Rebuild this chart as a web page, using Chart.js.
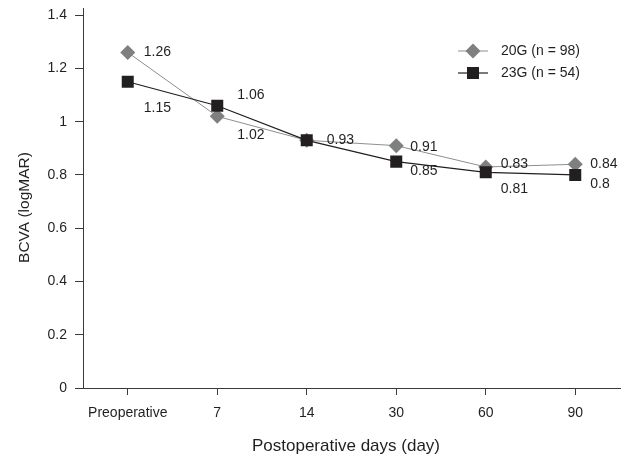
<!DOCTYPE html>
<html>
<head>
<meta charset="utf-8">
<script src="https://cdn.jsdelivr.net/npm/chart.js@4/dist/chart.umd.min.js"></script>
<style>
html,body{margin:0;padding:0;background:#fff;}
#c{display:block;}
</style>
</head>
<body>
<canvas id="c" width="631" height="458"></canvas>
<script>
// ---- data ----
const categories = ['Preoperative', '7', '14', '30', '60', '90'];
const series20G = [1.26, 1.02, 0.93, 0.91, 0.83, 0.84];
const series23G = [1.15, 1.06, 0.93, 0.85, 0.81, 0.8];
const label20G = '20G (n = 98)';
const label23G = '23G (n = 54)';
const yTicks = [0, 0.2, 0.4, 0.6, 0.8, 1, 1.2, 1.4];
const xTitle = 'Postoperative days (day)';
const yTitle = 'BCVA (logMAR)';

const TEXT = '#231f20';
const AXIS = '#3a3a3a';
const FONT = '"Liberation Sans", Arial, Helvetica, sans-serif';

// value label placement (offsets from point, px); null = no label
const labelOffsets = [
  [[16,0],[20,19],[20,0],[14,1],[15,-3],[15,0]],
  [[16,26],[20,-11],null,[14,10],[15,17],[15,9]]
];

const valueLabels = {
  id: 'valueLabels',
  afterDatasetsDraw(chart) {
    const ctx = chart.ctx;
    ctx.save();
    ctx.font = '14px ' + FONT;
    ctx.fillStyle = TEXT;
    ctx.textAlign = 'left';
    ctx.textBaseline = 'middle';
    chart.data.datasets.forEach((ds, di) => {
      const meta = chart.getDatasetMeta(di);
      const offs = labelOffsets[ds.labelSet];
      meta.data.forEach((pt, i) => {
        const o = offs[i];
        if (!o) return;
        ctx.fillText(String(ds.data[i]), pt.x + o[0], pt.y + o[1]);
      });
    });
    ctx.restore();
  }
};

const customLegend = {
  id: 'customLegend',
  afterDraw(chart) {
    const ctx = chart.ctx;
    const rows = [chart.data.datasets[1], chart.data.datasets[0]];
    ctx.save();
    rows.forEach((ds, r) => {
      const y = 51 + r * 22;
      ctx.strokeStyle = ds.borderColor;
      ctx.lineWidth = ds.borderWidth;
      ctx.beginPath();
      ctx.moveTo(458, y);
      ctx.lineTo(488, y);
      ctx.stroke();
      ctx.fillStyle = ds.pointBackgroundColor;
      ctx.beginPath();
      if (ds.pointStyle === 'rectRot') {
        const rr = ds.pointRadius;
        ctx.moveTo(473, y - rr); ctx.lineTo(473 + rr, y); ctx.lineTo(473, y + rr); ctx.lineTo(473 - rr, y);
        ctx.closePath();
      } else {
        const s = ds.pointRadius * Math.SQRT1_2;
        ctx.rect(473 - s, y - s, 2 * s, 2 * s);
      }
      ctx.fill();
      ctx.fillStyle = TEXT;
      ctx.font = '14px ' + FONT;
      ctx.textAlign = 'left';
      ctx.textBaseline = 'middle';
      ctx.fillText(ds.label, 501, y);
    });
    // x axis title
    ctx.font = '17px ' + FONT;
    ctx.textAlign = 'center';
    ctx.textBaseline = 'alphabetic';
    ctx.fillStyle = TEXT;
    ctx.fillText(xTitle, 346, 451);
    // y axis title
    ctx.translate(29, 207.5);
    ctx.rotate(-Math.PI / 2);
    ctx.font = '15.5px ' + FONT;
    ctx.textAlign = 'center';
    ctx.textBaseline = 'alphabetic';
    ctx.fillText(yTitle, 0, 0);
    ctx.restore();
  }
};

new Chart(document.getElementById('c'), {
  type: 'line',
  data: {
    labels: categories,
    datasets: [
      {
        label: label23G, data: series23G, labelSet: 1, order: 0,
        borderColor: '#231f20', borderWidth: 1.2,
        pointStyle: 'rect', pointRadius: 8.5, pointHoverRadius: 8.5,
        pointBackgroundColor: '#231f20', pointBorderColor: '#231f20', pointBorderWidth: 0,
        tension: 0, fill: false
      },
      {
        label: label20G, data: series20G, labelSet: 0, order: 1,
        borderColor: '#8e8e8e', borderWidth: 1,
        pointStyle: 'rectRot', pointRadius: 7.5, pointHoverRadius: 7.5,
        pointBackgroundColor: '#7f7f7f', pointBorderColor: '#7f7f7f', pointBorderWidth: 0,
        tension: 0, fill: false
      }
    ]
  },
  options: {
    responsive: false,
    animation: false,
    devicePixelRatio: 1,
    layout: { padding: { left: 0, right: 11, top: 5, bottom: 0 } },
    plugins: { legend: { display: false }, tooltip: { enabled: false } },
    scales: {
      x: {
        type: 'category',
        offset: true,
        afterFit(s) { s.height = 70; s.paddingLeft = 0; s.paddingRight = 0; },
        grid: { display: true, offset: false, drawOnChartArea: false, drawTicks: true, tickLength: 7, tickColor: AXIS, tickWidth: 1 },
        border: { display: true, color: AXIS, width: 1 },
        ticks: { color: TEXT, font: { family: FONT, size: 14 }, padding: 10, maxRotation: 0, autoSkip: false },
        title: { display: false }
      },
      y: {
        type: 'linear',
        min: 0, max: 1.425,
        afterFit(s) { s.width = 83; s.paddingTop = 0; s.paddingBottom = 0; },
        afterBuildTicks(s) { s.ticks = yTicks.map(v => ({ value: v })); },
        grid: { display: true, drawOnChartArea: false, drawTicks: true, tickLength: 8, tickColor: AXIS, tickWidth: 1 },
        border: { display: true, color: AXIS, width: 1 },
        ticks: { color: TEXT, font: { family: FONT, size: 14, lineHeight: 0.5 }, padding: 8, callback: v => String(+Number(v).toFixed(2)) },
        title: { display: false }
      }
    }
  },
  plugins: [valueLabels, customLegend]
});
</script>
</body>
</html>
